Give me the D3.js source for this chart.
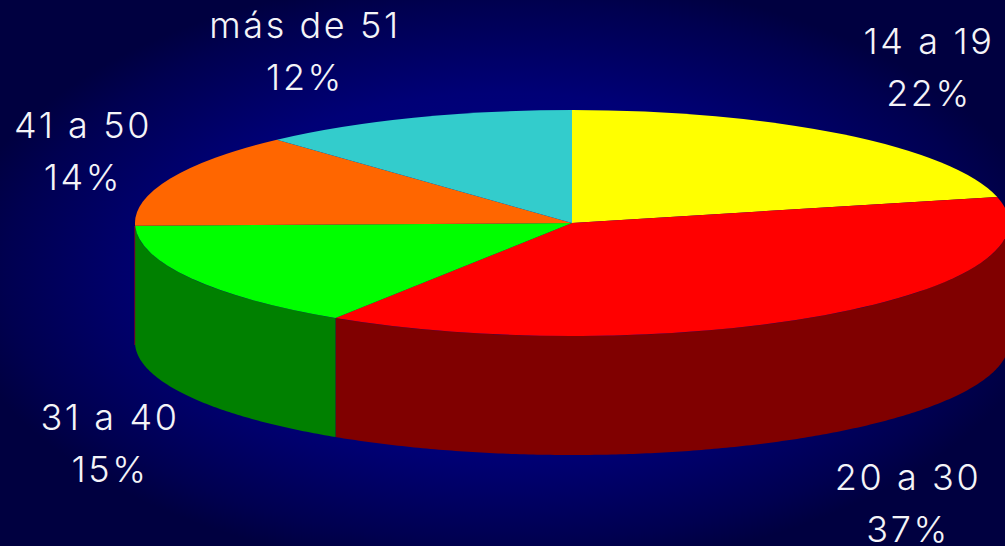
<!DOCTYPE html>
<html>
<head>
<meta charset="utf-8">
<script src="https://cdn.jsdelivr.net/npm/d3@7"></script>
<style>
  html, body { margin: 0; padding: 0; background: #000040; overflow: hidden; }
  svg { display: block; }
  text { font-family: Inter, "Liberation Sans", sans-serif; font-weight: 300; fill: #f4f4f8; }
</style>
</head>
<body>
<div id="chart"></div>
<script>
// ==== Data ====
const categories = ["14 a 19", "20 a 30", "31 a 40", "41 a 50", "más de 51"];
const shares = [22, 37, 15, 14, 12];
// slice sizes as they are drawn in the picture, a bit off from the printed percentages
const drawnShares = [21.3, 37.8, 15.5, 13.6, 11.8];
const topColors = ["#ffff00", "#ff0000", "#00ff00", "#ff6600", "#33cccc"];
const wallColors = ["#808000", "#800000", "#008000", "#803300", "#1a6666"];

// label centre and first baseline, one per category
const labelSpots = [[929, 54], [908, 490], [110, 430], [83, 138], [305, 38]];

// ==== Setup ====
const width = 1005;
const height = 546;
const cx = 572;
const cy = 223;
const rx = 437;
const ry = 113;
const depth = 119;

const svg = d3.select("#chart").append("svg")
  .attr("width", width)
  .attr("height", height);

const grad = svg.append("defs").append("radialGradient")
  .attr("id", "bg")
  .attr("gradientUnits", "userSpaceOnUse")
  .attr("cx", width / 2).attr("cy", height / 2).attr("r", 1)
  .attr("gradientTransform", `translate(${width / 2},${height / 2}) scale(${width * 0.55},${height * 0.55}) translate(${-width / 2},${-height / 2})`);
grad.append("stop").attr("offset", "0").attr("stop-color", "#000090");
grad.append("stop").attr("offset", "0.6").attr("stop-color", "#000076");
grad.append("stop").attr("offset", "0.9").attr("stop-color", "#000050");
grad.append("stop").attr("offset", "1").attr("stop-color", "#000040");

svg.append("rect").attr("width", width).attr("height", height).attr("fill", "url(#bg)");

// slices go clockwise from 12 o'clock
const slices = d3.pie().sort(null)(drawnShares);

const px = a => cx + rx * Math.sin(a);
const py = a => cy - ry * Math.cos(a);

const wallLine = d3.line();

// only the front half of the rim shows
function wallPath(d) {
  const a0 = Math.max(d.startAngle, Math.PI / 2);
  const a1 = Math.min(d.endAngle, Math.PI * 1.5);
  if (a1 <= a0) return null;
  const steps = d3.range(a0, a1, 0.01).concat([a1]);
  const upper = steps.map(a => [px(a), py(a)]);
  const lower = steps.slice().reverse().map(a => [px(a), py(a) + depth]);
  return wallLine(upper.concat(lower)) + "Z";
}

// thin red sliver on the far left edge of the wall
svg.append("line")
  .attr("x1", px(Math.PI * 1.5)).attr("x2", px(Math.PI * 1.5))
  .attr("y1", cy + 3).attr("y2", cy + depth + 3)
  .attr("stroke", "#b00000").attr("stroke-width", 1);

svg.append("g").selectAll("path")
  .data(slices)
  .join("path")
  .attr("d", wallPath)
  .attr("fill", (d, i) => wallColors[i]);

const arc = d3.arc().innerRadius(0).outerRadius(rx);

svg.append("g")
  .attr("transform", `translate(${cx},${cy}) scale(1,${ry / rx})`)
  .selectAll("path")
  .data(slices)
  .join("path")
  .attr("d", arc)
  .attr("fill", (d, i) => topColors[i]);

// ==== Labels ====
const labels = svg.append("g").selectAll("g")
  .data(categories)
  .join("g")
  .attr("transform", (d, i) => `translate(${labelSpots[i][0]},${labelSpots[i][1]})`)
  .attr("text-anchor", "middle")
  .style("font-size", "36px")
  .style("letter-spacing", "2.6px");

labels.append("text").text(d => d);
labels.append("text").attr("y", 52).text((d, i) => shares[i] + "%");
</script>
</body>
</html>
